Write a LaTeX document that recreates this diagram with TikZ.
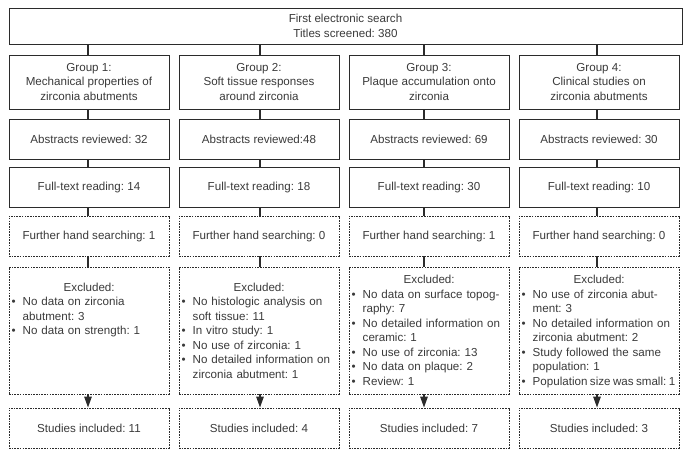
\documentclass[tikz,border=0pt]{standalone}
\usepackage{fontspec}
\setmainfont{Liberation Sans}
\usetikzlibrary{arrows.meta}
\definecolor{ink}{HTML}{2B2B2B}
\definecolor{txt}{HTML}{3A3A3A}
\frenchspacing
\newcommand{\bul}{\makebox[13.5pt][l]{\hspace{2.5pt}\textbullet}}
\newcommand{\cnt}{\hspace*{13.5pt}}
\begin{document}
\frenchspacing
\begin{tikzpicture}[x=1pt,y=-1pt,
  font=\fontsize{11.6}{14.5}\selectfont\frenchspacing, text=txt,
  solidbox/.style={draw=ink, line width=0.9pt, minimum width=160pt, inner sep=0pt, align=center},
  dotbox/.style={solidbox, dash pattern=on 1.6pt off 1.1pt},
  extext/.style={anchor=north west, inner sep=0pt, text width=175pt, align=left},
  link/.style={draw=ink, line width=1.4pt},
  arr/.style={link, -{Triangle[length=11pt,width=7.5pt]}}]
\useasboundingbox (0,0) rectangle (692,452);
\node[solidbox, minimum width=673pt, minimum height=36pt] (top) at (345.5,26) {First electronic search\\Titles screened: 380};
% columns
\foreach \i/\lx in {1/88, 2/260, 3/424, 4/597} {
  \coordinate (x\i) at (\lx,0);
}
\node[solidbox, minimum height=54pt] (g1) at (89,82) {Group 1:\\Mechanical properties of\\zirconia abutments};
\node[solidbox, minimum height=54pt] (g2) at (259,82) {Group 2:\\Soft tissue responses\\around zirconia};
\node[solidbox, minimum height=54pt] (g3) at (429,82) {Group 3:\\Plaque accumulation onto\\zirconia};
\node[solidbox, minimum height=54pt] (g4) at (599,82) {Group 4:\\Clinical studies on\\zirconia abutments};

\node[solidbox, minimum height=40pt] (a1) at (89,139) {Abstracts reviewed: 32};
\node[solidbox, minimum height=40pt] (a2) at (259,139) {Abstracts reviewed:48};
\node[solidbox, minimum height=40pt] (a3) at (429,139) {Abstracts reviewed: 69};
\node[solidbox, minimum height=40pt] (a4) at (599,139) {Abstracts reviewed: 30};

\node[solidbox, minimum height=40pt] (f1) at (89,187) {Full-text reading: 14};
\node[solidbox, minimum height=40pt] (f2) at (259,187) {Full-text reading: 18};
\node[solidbox, minimum height=40pt] (f3) at (429,187) {Full-text reading: 30};
\node[solidbox, minimum height=40pt] (f4) at (599,187) {Full-text reading: 10};

\node[dotbox, minimum height=40pt] (h1) at (89,236) {Further hand searching: 1};
\node[dotbox, minimum height=40pt] (h2) at (259,236) {Further hand searching: 0};
\node[dotbox, minimum height=40pt] (h3) at (429,236) {Further hand searching: 1};
\node[dotbox, minimum height=40pt] (h4) at (599,236) {Further hand searching: 0};

\node[dotbox, minimum height=127pt] (e1) at (89,330.5) {};
\node[dotbox, minimum height=127pt] (e2) at (259,330.5) {};
\node[dotbox, minimum height=127pt] (e3) at (429,330.5) {};
\node[dotbox, minimum height=127pt] (e4) at (599,330.5) {};

\node[extext] (t1) at (9,282.5) {\makebox[160pt][c]{Excluded:}\\
\bul No data on zirconia\\
\cnt abutment: 3\\
\bul No data on strength: 1};
\node[extext] (t2) at (179,282.5) {\makebox[160pt][c]{Excluded:}\\
\bul No histologic analysis on\\
\cnt soft tissue: 11\\
\bul In vitro study: 1\\
\bul No use of zirconia: 1\\
\bul No detailed information on\\
\cnt zirconia abutment: 1};
\node[extext] (t3) at (349,275) {\makebox[160pt][c]{Excluded:}\\
\bul No data on surface topog-\\
\cnt raphy: 7\\
\bul No detailed information on\\
\cnt ceramic: 1\\
\bul No use of zirconia: 13\\
\bul No data on plaque: 2\\
\bul Review: 1};
\node[extext] (t4) at (519,275) {\makebox[160pt][c]{Excluded:}\\
\bul No use of zirconia abut-\\
\cnt ment: 3\\
\bul No detailed information on\\
\cnt zirconia abutment: 2\\
\bul Study followed the same\\
\cnt population: 1\\
\bul {\spaceskip=0.21em\relax Population size was small: 1}};

\node[dotbox, minimum height=40pt] (s1) at (89,428) {Studies included: 11};
\node[dotbox, minimum height=40pt] (s2) at (259,428) {Studies included: 4};
\node[dotbox, minimum height=40pt] (s3) at (429,428) {Studies included: 7};
\node[dotbox, minimum height=40pt] (s4) at (599,428) {Studies included: 3};

\foreach \i in {1,2,3,4} {
  \draw[link] (top.south -| x\i) -- (g\i.north -| x\i);
  \draw[link] (g\i.south -| x\i) -- (a\i.north -| x\i);
  \draw[link] (a\i.south -| x\i) -- (f\i.north -| x\i);
  \draw[link] (f\i.south -| x\i) -- (h\i.north -| x\i);
  \draw[link] (h\i.south -| x\i) -- (e\i.north -| x\i);
  \draw[arr] (e\i.south -| x\i) -- (s\i.north -| x\i);
}
\end{tikzpicture}
\end{document}
